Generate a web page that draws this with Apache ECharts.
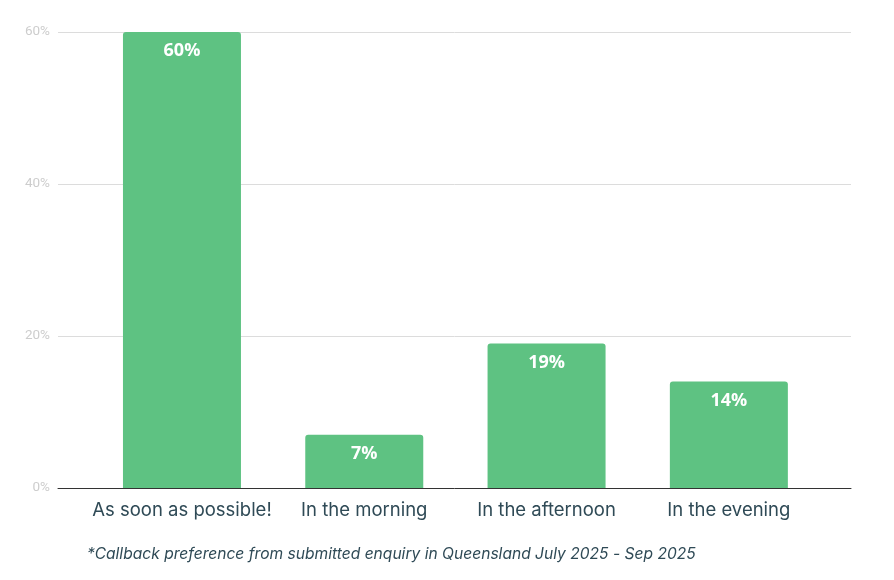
<!DOCTYPE html>
<html>
<head>
<meta charset="utf-8">
<script src="https://cdn.jsdelivr.net/npm/echarts@6/dist/echarts.min.js"></script>
<style>html,body{margin:0;padding:0;background:#fff;}#c{width:894px;height:580px;}</style>
</head>
<body>
<div id="c"></div>
<script>
const categories = ["As soon as possible!", "In the morning", "In the afternoon", "In the evening"];
const values = [60, 7, 19, 14];
const yTicks = [0, 20, 40, 60];
const footnote = "*Callback preference from submitted enquiry in Queensland July 2025 - Sep 2025";

const chart = echarts.init(document.getElementById('c'));
chart.setOption({
  animation: false,
  backgroundColor: '#ffffff',
  title: {
    text: footnote,
    left: 82, top: 541,
    textStyle: { fontFamily: 'Inter', fontStyle: 'italic', fontWeight: 'normal', fontSize: 15.6, color: '#2f4a56' }
  },
  grid: { left: 58, right: 43, top: 32, bottom: 92 },
  xAxis: {
    type: 'value',
    min: -0.68, max: 3.67,
    splitLine: { show: false },
    axisTick: { show: false },
    axisLine: { show: true, onZero: false, lineStyle: { color: '#333', width: 1 } },
    axisLabel: {
      customValues: [0, 1, 2, 3],
      showMinLabel: true, showMaxLabel: true,
      formatter: v => categories[Math.round(v)] || '',
      margin: 13,
      fontFamily: 'Inter', fontSize: 18.5, color: '#2f4a56'
    }
  },
  yAxis: {
    type: 'value',
    min: yTicks[0], max: yTicks[yTicks.length - 1], interval: 20,
    axisLine: { show: false },
    axisTick: { show: false },
    splitLine: { lineStyle: { color: '#dcdcdc', width: 1 } },
    axisLabel: { formatter: '{value}%', margin: 8, fontFamily: 'Roboto', fontSize: 13.5, color: '#cdcdcd' }
  },
  series: [{
    type: 'bar',
    data: values.map((v, i) => [i, v]),
    barWidth: 118,
    itemStyle: { color: '#5ec282', borderRadius: [3, 3, 0, 0] },
    label: {
      show: true, position: 'insideTop', distance: 10,
      formatter: p => p.value[1] + '%',
      fontFamily: 'Open Sans', fontWeight: 'bold', fontSize: 18, color: '#ffffff'
    }
  }]
});
</script>
</body>
</html>
